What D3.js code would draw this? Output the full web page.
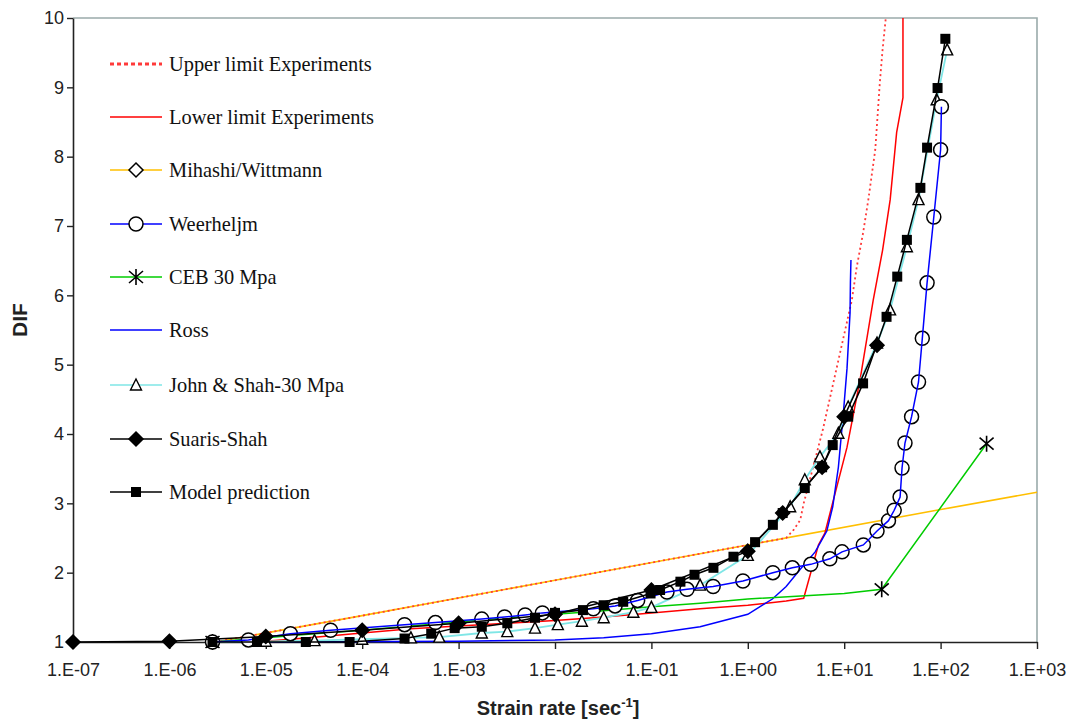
<!DOCTYPE html>
<html>
<head>
<meta charset="utf-8">
<script src="https://cdn.jsdelivr.net/npm/d3@7"></script>
<style>
  body { margin: 0; background: #fff; }
  .tick text { font-family: Arial, "Liberation Sans", sans-serif; font-size: 18px; fill: #222; }
  .legend text { font-family: "Times New Roman", "Liberation Serif", serif; font-size: 20.4px; fill: #111; }
</style>
</head>
<body>
<div id="chart"></div>
<script>
const W = 1074, H = 722;

// axis ticks
const xTickValues = [1e-7, 1e-6, 1e-5, 1e-4, 1e-3, 1e-2, 1e-1, 1e0, 1e1, 1e2, 1e3];
const yTickValues = [1, 2, 3, 4, 5, 6, 7, 8, 9, 10];

// series: [strain rate, DIF]
const mihashi = [[3e-6, 1.0], [1e-4, 1.38], [1e-2, 1.89], [1, 2.40], [100, 2.91], [1000, 3.16]];

const upperLimit = [[3e-6, 1.0], [1e-4, 1.38], [1e-2, 1.89], [1, 2.40], [2.5, 2.5], [3, 2.62],
  [3.5, 2.76], [3.8, 3.0], [6, 4.06], [12, 5.93], [13.5, 6.41], [15.7, 6.9], [17.8, 7.38],
  [21, 8.1], [23.4, 9.06], [25, 9.54], [27, 10]];

const lowerLimit = [[8e-6, 1.0], [3.2e-5, 1.07], [1e-4, 1.13], [3.2e-4, 1.19], [1e-3, 1.23],
  [3.2e-3, 1.27], [1e-2, 1.31], [3.2e-2, 1.36], [0.1, 1.42], [0.32, 1.48], [1, 1.53], [2.5, 1.59],
  [3.8, 1.63], [5.4, 2.4], [6.3, 2.57], [10.7, 3.81], [14.6, 4.78], [20, 5.93], [25, 6.65],
  [30, 7.38], [35, 8.35], [40.7, 8.85], [40.7, 10]];

const weerheljm = [[2.8e-6, 1.0], [6.6e-6, 1.03], [1.8e-5, 1.12], [4.7e-5, 1.17], [2.75e-4, 1.25],
  [5.75e-4, 1.28], [1.74e-3, 1.33], [3.0e-3, 1.36], [4.9e-3, 1.39], [7.4e-3, 1.42], [2.5e-2, 1.48],
  [4.2e-2, 1.52], [7.2e-2, 1.6], [0.145, 1.72], [0.234, 1.76], [0.437, 1.8], [0.89, 1.88],
  [1.82, 2.0], [2.9, 2.07], [4.5, 2.12], [7.1, 2.2], [9.5, 2.3], [15.8, 2.4], [21.9, 2.6],
  [28.8, 2.75], [33, 2.9], [38, 3.09], [39.8, 3.51], [42.7, 3.87], [50, 4.25], [59, 4.75],
  [64.6, 5.38], [72.4, 6.18], [85, 7.13], [100, 8.1], [102, 8.72]];

const ceb = [[2.8e-6, 1.0], [1e-5, 1.06], [3.2e-5, 1.12], [1e-4, 1.17], [3.2e-4, 1.23], [1e-3, 1.29],
  [3.2e-3, 1.35], [1e-2, 1.40], [3.2e-2, 1.45], [0.1, 1.51], [0.32, 1.56], [1, 1.62], [3.2, 1.66],
  [10, 1.70], [24.5, 1.76], [300, 3.86]];
const cebMarks = [[2.8e-6, 1.0], [24.5, 1.76], [300, 3.86]];

const ross = [[1e-5, 1.0], [1e-3, 1.01], [1e-2, 1.03], [3.2e-2, 1.06], [0.1, 1.12], [0.32, 1.22],
  [1, 1.4], [1.8, 1.62], [2.5, 1.8], [3.5, 2.05], [5, 2.3], [6.6, 2.6], [7.6, 2.95], [8.7, 3.52],
  [9.8, 4.3], [10.7, 4.95], [11.5, 5.75], [11.6, 6.18], [11.75, 6.51]];

const johnShah = [[2.8e-6, 1.0], [1e-5, 1.01], [3.2e-5, 1.02], [1e-4, 1.04], [3.2e-4, 1.06],
  [6.3e-4, 1.07], [1.74e-3, 1.13], [3.2e-3, 1.15], [6.2e-3, 1.2], [1.07e-2, 1.25], [1.9e-2, 1.3],
  [3.2e-2, 1.35], [6.5e-2, 1.43], [0.1, 1.5], [0.32, 1.82], [1, 2.25], [2.75, 2.95], [3.9, 3.34],
  [5.6, 3.67], [8.7, 4.01], [11, 4.39], [21.9, 5.31], [29.9, 5.79], [44.7, 6.7], [59, 7.38],
  [91, 8.82], [117, 9.54]];

const suarisShah = [[1e-7, 1.0], [1e-6, 1.01], [1e-5, 1.08], [1e-4, 1.17], [1e-3, 1.27],
  [1e-2, 1.4], [0.1, 1.75], [1, 2.31], [2.3, 2.86], [5.9, 3.52], [10, 4.25], [21.9, 5.28]];

const model = [[2.8e-6, 1.0], [8.1e-6, 1.0], [2.6e-5, 1.0], [7.4e-5, 1.0], [2.75e-4, 1.05],
  [5.2e-4, 1.12], [9.1e-4, 1.2], [1.74e-3, 1.22], [3.2e-3, 1.27], [6.2e-3, 1.35], [1e-2, 1.42],
  [1.95e-2, 1.46], [3.2e-2, 1.53], [5.1e-2, 1.58], [9.8e-2, 1.7], [0.123, 1.75], [0.2, 1.87],
  [0.28, 1.97], [0.44, 2.07], [0.71, 2.23], [1.19, 2.44], [1.82, 2.69], [2.3, 2.86], [3.9, 3.22],
  [5.9, 3.52], [7.6, 3.84], [11, 4.25], [15.7, 4.73], [27.5, 5.69], [35.5, 6.27], [44.7, 6.8],
  [61.7, 7.55], [72.4, 8.13], [93, 8.99], [112, 9.7]];

const legendNames = ["Upper limit Experiments", "Lower limit Experiments", "Mihashi/Wittmann",
  "Weerheljm", "CEB 30 Mpa", "Ross", "John & Shah-30 Mpa", "Suaris-Shah", "Model prediction"];

// drawing order (back to front) and styles
const series = [
  { key: "mihashi", data: mihashi, color: "#ffbf00", width: 1.6, marker: null, legend: 2, legendMarker: "openDiamond" },
  { key: "upper", data: upperLimit, color: "#ff3a3a", width: 1.8, dash: "2,3", marker: null, legend: 0 },
  { key: "lower", data: lowerLimit, color: "#ff0000", width: 1.5, marker: null, legend: 1 },
  { key: "ross", data: ross, color: "#0000ff", width: 1.5, marker: null, legend: 5 },
  { key: "ceb", data: ceb, color: "#00cc00", width: 1.5, marker: "asterisk", marks: cebMarks, legend: 4 },
  { key: "john", data: johnShah, color: "#7fe6e6", width: 1.8, marker: "triangle", legend: 6 },
  { key: "weer", data: weerheljm, color: "#0000ff", width: 1.5, marker: "circle", legend: 3 },
  { key: "suaris", data: suarisShah, color: "#000", width: 1.5, marker: "diamond", legend: 7 },
  { key: "model", data: model, color: "#000", width: 1.5, marker: "square", legend: 8 },
];

const svg = d3.select("#chart").append("svg")
  .attr("width", W).attr("height", H)
  .style("background", "#fff");

const x = d3.scaleLog().domain([1e-7, 1e3]).range([73, 1037]);
const y = d3.scaleLinear().domain([1, 10]).range([642, 18]);

// frame (top + right gray)
svg.append("path")
  .attr("d", `M${x(1e-7)},${y(10)}H${x(1e3)}V${y(1)}`)
  .attr("fill", "none").attr("stroke", "#9aabab").attr("stroke-width", 1.6);

function fmtExp(d) {
  const e = Math.round(Math.log10(d));
  return "1.E" + (e < 0 ? "-" : "+") + String(Math.abs(e)).padStart(2, "0");
}

const xAxis = svg.append("g")
  .attr("transform", `translate(0,${y(1)})`)
  .call(d3.axisBottom(x).tickValues(xTickValues).tickFormat(fmtExp).tickSize(7).tickSizeOuter(0).tickPadding(14));
const yAxis = svg.append("g")
  .attr("transform", `translate(${x(1e-7)},0)`)
  .call(d3.axisLeft(y).tickValues(yTickValues).tickSize(6).tickSizeOuter(0).tickPadding(3));
[xAxis, yAxis].forEach(a => {
  a.select(".domain").attr("stroke", "#222").attr("stroke-width", 1.6);
  a.selectAll(".tick line").attr("stroke", "#222").attr("stroke-width", 1.4);
});

// axis titles
svg.append("text")
  .attr("transform", "translate(27,320) rotate(-90)")
  .attr("text-anchor", "middle")
  .style("font-family", "Arial, 'Liberation Sans', sans-serif")
  .style("font-weight", "bold").style("font-size", "21px").style("fill", "#222")
  .text("DIF");

const xt = svg.append("text")
  .attr("x", 558).attr("y", 715)
  .attr("text-anchor", "middle")
  .style("font-family", "Arial, 'Liberation Sans', sans-serif")
  .style("font-weight", "bold").style("font-size", "20px").style("fill", "#222");
xt.append("tspan").text("Strain rate [sec");
xt.append("tspan").attr("dy", -8).style("font-size", "13px").text("-1");
xt.append("tspan").attr("dy", 8).text("]");

// markers
function drawMarker(g, type, cx, cy) {
  const t = `translate(${cx},${cy})`;
  if (type === "circle") {
    g.append("circle").attr("cx", cx).attr("cy", cy).attr("r", 7)
      .attr("fill", "#fff").attr("stroke", "#000").attr("stroke-width", 1.5);
  } else if (type === "square") {
    g.append("rect").attr("x", cx - 5).attr("y", cy - 5).attr("width", 10).attr("height", 10)
      .attr("fill", "#000");
  } else if (type === "diamond" || type === "openDiamond") {
    g.append("path").attr("transform", t).attr("d", "M0,-7L7,0L0,7L-7,0Z")
      .attr("fill", type === "diamond" ? "#000" : "#fff")
      .attr("stroke", "#000").attr("stroke-width", 1.5);
  } else if (type === "triangle") {
    g.append("path").attr("transform", t).attr("d", "M0,-6L5.5,5L-5.5,5Z")
      .attr("fill", "#fff").attr("stroke", "#000").attr("stroke-width", 1.4);
  } else if (type === "asterisk") {
    g.append("path").attr("transform", t).attr("d", "M0,-8V8M-7,-6L7,6M-7,6L7,-6")
      .attr("fill", "none").attr("stroke", "#000").attr("stroke-width", 1.6);
  }
}

const line = d3.line().x(d => x(d[0])).y(d => y(d[1]));
const plot = svg.append("g").attr("class", "plot");

series.forEach(s => {
  const g = plot.append("g").attr("class", s.key);
  const pts = s.marks || s.data;
  const drawLine = () => g.append("path")
    .datum(s.data)
    .attr("d", line)
    .attr("fill", "none")
    .attr("stroke", s.color)
    .attr("stroke-width", s.width)
    .attr("stroke-dasharray", s.dash || null);
  if (s.marker === "circle") {
    // open circles sit under their own line
    pts.forEach(p => drawMarker(g, s.marker, x(p[0]), y(p[1])));
    drawLine();
  } else {
    drawLine();
    if (s.marker) pts.forEach(p => drawMarker(g, s.marker, x(p[0]), y(p[1])));
  }
});

// legend
const legendY = [64, 117, 170, 224, 277, 330, 385, 439, 492];
const legend = svg.append("g").attr("class", "legend");
series.forEach(s => {
  const ly = legendY[s.legend];
  const isUpper = s.key === "upper";
  legend.append("line")
    .attr("x1", 110).attr("x2", 162).attr("y1", ly).attr("y2", ly)
    .attr("stroke", s.color)
    .attr("stroke-width", isUpper ? 3 : 1.6)
    .attr("stroke-dasharray", isUpper ? "4,3" : null);
  const m = s.legendMarker || s.marker;
  if (m) drawMarker(legend, m, 136, ly);
  legend.append("text")
    .attr("x", 169).attr("y", ly).attr("dy", "0.33em")
    .text(legendNames[s.legend]);
});
</script>
</body>
</html>
